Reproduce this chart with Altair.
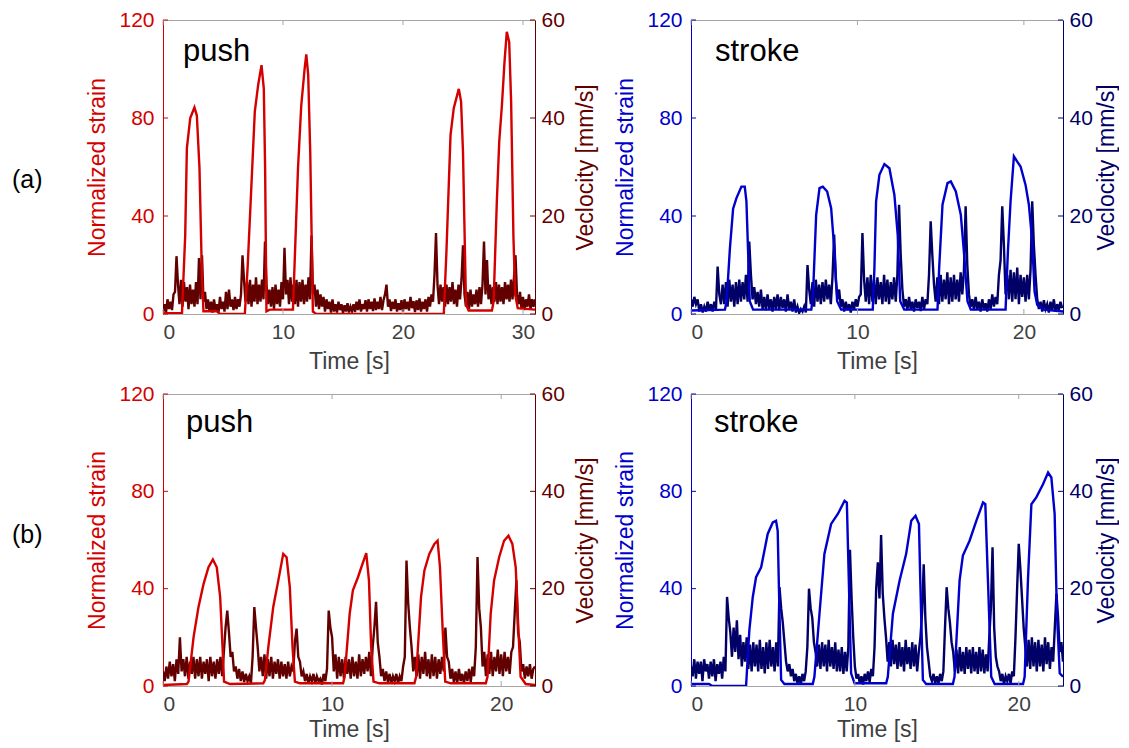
import altair as alt
import pandas as pd

# ---------------- data ----------------
# (a) push : strain (time, value) and velocity (one row of samples per second)
a_push_strain_t = [0, 1.5, 1.58, 1.85, 1.99, 2.27, 2.62, 2.82, 3.04, 3.23, 3.37, 4.48, 4.75, 6.82, 7.05, 7.24, 7.65,
                   7.93, 8.21, 8.40, 8.51, 8.62, 8.9, 10.83, 11.05, 11.25, 11.52, 11.8, 11.94, 12.1, 12.27, 12.49,
                   12.77, 23.4, 23.62, 23.96, 24.23, 24.65, 24.84, 25.0, 25.25, 25.47, 27.41, 27.55, 27.82, 28.02,
                   28.24, 28.46, 28.65, 28.85, 29.01, 29.2, 29.35, 29.56, 31.0]
a_push_strain_v = [0.3, 0.3, 0, 32, 67.7, 80, 84.3, 81, 59.5, 18.8, 1.1, 1.1, 0, 0, 18.8, 39, 82.6,
                   93.5, 101.6, 92, 59.5, 1.1, 1.8, 1.8, 32, 59.5, 85, 100, 106, 97.6, 66, 1,
                   0, 0, 25.5, 73, 84, 91.9, 86.7, 66, 3.8, 1.4, 1.4, 5, 46, 70.4,
                   85, 103, 115.2, 111, 86.7, 32, 7.9, 2.4, 1.8]
a_push_vel_dt = 0.125
a_push_vel = [
    [0.5, 2.0, 0.3, 3.0, 1.0, 2.5, 0.8, 4.0],
    [4.5, 11.8, 6.0, 2.0, 7.0, 1.5, 6.5, 2.5],
    [5.5, 1.0, 6.0, 2.0, 5.0, 1.5, 6.5, 2.0],
    [11.4, 3.0, 12.0, 2.5, 4.5, 1.0, 3.0, 0.5],
    [2.5, 0.3, 3.0, 0.8, 2.0, 0.3, 3.5, 1.0],
    [2.5, 0.5, 4.5, 1.0, 5.0, 1.5, 3.0, 0.8],
    [3.5, 1.0, 3.0, 1.5, 4.0, 12.0, 7.0, 2.5],
    [6.5, 2.0, 7.0, 1.5, 6.0, 2.5, 7.5, 2.0],
    [6.0, 2.5, 7.0, 3.0, 14.8, 6.0, 2.0, 5.0],
    [1.5, 5.5, 1.0, 6.0, 2.0, 5.0, 1.5, 6.5],
    [3.0, 13.5, 4.0, 7.0, 2.0, 7.5, 2.5, 6.0],
    [2.0, 7.0, 1.5, 6.5, 2.5, 7.0, 2.0, 6.0],
    [2.5, 7.5, 3.0, 16.0, 4.0, 6.0, 1.5, 5.0],
    [1.0, 4.0, 1.5, 3.5, 0.5, 3.0, 1.0, 2.5],
    [0.3, 3.0, 0.5, 2.0, 0.3, 2.5, 0.8, 2.0],
    [0.2, 1.8, 0.5, 2.2, 0.3, 1.5, 0.6, 2.0],
    [0.4, 2.5, 0.8, 3.0, 0.5, 2.0, 1.0, 2.8],
    [0.5, 3.0, 1.0, 2.5, 0.6, 3.2, 0.8, 2.5],
    [1.0, 3.5, 0.8, 2.8, 4.0, 6.0, 1.5, 3.0],
    [0.6, 2.5, 1.0, 3.0, 0.5, 2.2, 0.8, 2.8],
    [0.5, 3.0, 1.0, 2.5, 0.7, 3.5, 1.2, 2.6],
    [0.4, 2.8, 0.8, 3.2, 0.5, 2.5, 1.0, 3.0],
    [0.5, 3.5, 1.5, 4.0, 2.5, 8.0, 16.5, 6.0],
    [2.0, 6.0, 2.5, 5.5, 1.5, 6.0, 2.0, 5.5],
    [2.5, 6.5, 2.0, 5.0, 1.5, 6.0, 3.0, 7.0],
    [14.0, 4.0, 1.5, 4.5, 1.0, 5.0, 1.5, 4.0],
    [2.0, 5.0, 1.5, 5.5, 2.0, 6.0, 14.8, 4.0],
    [11.0, 3.0, 6.0, 2.0, 5.5, 2.5, 6.5, 2.0],
    [6.0, 2.5, 5.5, 2.0, 6.5, 3.0, 6.0, 2.5],
    [7.0, 3.0, 7.5, 12.0, 4.0, 2.0, 4.5, 1.0],
    [3.5, 0.8, 3.0, 1.5, 4.0, 1.0, 3.0, 1.5],
    [3.0],
]

# (a) stroke
a_stroke_strain_t = [0, 2.04, 2.14, 2.34, 2.53, 2.73, 3.03, 3.23, 3.33, 3.43, 3.53, 3.73, 7.23, 7.33, 7.52, 7.72,
                     7.92, 8.18, 8.42, 8.62, 8.78, 9.02, 10.92, 11.02, 11.12, 11.32, 11.62, 11.92, 12.22, 12.42,
                     12.57, 12.81, 14.81, 14.91, 15.11, 15.41, 15.61, 15.91, 16.21, 16.41, 16.61, 16.81, 18.9,
                     19.04, 19.2, 19.4, 19.6, 19.8, 20.1, 20.3, 20.5, 20.64, 20.8, 21.2, 22.35]
a_stroke_strain_v = [1.4, 1.8, 5.2, 27, 43, 47.3, 52, 52, 46, 25.5, 5.2, 1.8, 1.8, 7.9, 40.5, 51.4,
                     52, 50, 43.2, 25.5, 5.2, 1.8, 1.8, 18.8, 46, 56.8, 61.2, 59.5, 48.6, 32.3,
                     5.2, 1.8, 1.8, 18.8, 44.6, 53.4, 54.1, 50, 40.5, 24.2, 5.2, 1.8, 1.8,
                     25.5, 46, 64.3, 62.2, 60.2, 52.7, 44.6, 29.6, 9.2, 3.8, 1.8, 1.0]
a_stroke_vel_dt = 0.1
a_stroke_vel = [
    [3.0, 1.5, 3.5, 2.0, 3.0, 0.5, 2.0, 0.3, 1.5, 0.5],
    [2.5, 0.8, 2.0, 0.5, 2.5, 1.0, 9.7, 4.0, 2.0, 6.0],
    [2.0, 6.5, 1.5, 7.0, 2.5, 6.0, 1.5, 6.5, 2.0, 7.0],
    [2.5, 6.5, 3.0, 8.0, 2.5, 14.8, 8.0, 3.0, 5.5, 2.0],
    [4.5, 1.5, 5.0, 1.0, 3.5, 0.8, 4.0, 1.0, 3.0, 0.5],
    [3.5, 1.0, 4.0, 0.8, 3.5, 1.2, 3.0, 0.5, 4.0, 1.0],
    [2.5, 0.5, 3.0, 0.3, 1.5, 0.2, 1.0, 0.5, 1.5, 0.3],
    [10.0, 5.0, 2.0, 6.5, 1.5, 7.0, 2.5, 6.0, 2.0, 6.5],
    [2.5, 7.0, 3.0, 6.0, 2.0, 7.5, 16.2, 7.0, 3.0, 5.0],
    [1.5, 3.0, 0.5, 2.5, 0.8, 2.0, 0.3, 2.5, 1.0, 3.0],
    [1.5, 3.5, 4.0, 16.5, 7.0, 2.5, 7.5, 2.0, 8.0, 2.5],
    [7.0, 2.0, 7.5, 3.0, 6.5, 2.0, 8.0, 2.5, 7.0, 2.0],
    [6.5, 3.0, 7.5, 2.5, 8.0, 22.3, 12.0, 5.0, 1.5, 3.0],
    [0.8, 3.5, 1.0, 2.5, 0.5, 3.0, 1.2, 2.5, 0.6, 3.5],
    [1.0, 3.0, 2.0, 8.0, 18.9, 12.0, 6.0, 2.5, 7.5, 2.0],
    [8.0, 2.5, 7.0, 3.0, 8.5, 2.0, 7.5, 2.5, 8.0, 3.0],
    [7.0, 2.5, 8.5, 4.0, 9.0, 22.0, 10.0, 4.0, 1.5, 3.0],
    [0.8, 3.5, 1.0, 2.5, 0.5, 3.0, 1.0, 2.2, 0.5, 3.0],
    [1.0, 4.0, 1.5, 3.5, 2.0, 8.0, 11.0, 22.0, 14.0, 4.0],
    [8.0, 3.0, 9.0, 2.5, 8.5, 3.0, 9.5, 2.0, 8.0, 3.5],
    [7.5, 2.5, 8.0, 3.0, 9.0, 23.0, 14.0, 8.0, 3.0, 1.0],
    [2.5, 0.5, 2.8, 1.0, 2.0, 0.3, 2.5, 0.8, 3.0, 0.5],
    [2.0, 0.8, 2.5, 1.2],
]

# (b) push
b_push_strain_t = [0, 1.41, 1.51, 1.81, 2.1, 2.4, 2.69, 2.95, 3.18, 3.38, 3.52, 3.61, 3.97, 5.93, 6.03, 6.23,
                   6.52, 6.82, 7.11, 7.31, 7.5, 7.66, 7.8, 8.09, 10.65, 10.74, 11.04, 11.23, 11.53, 11.73,
                   12.02, 12.18, 12.31, 12.45, 12.8, 14.87, 14.97, 15.26, 15.46, 15.75, 16.05, 16.24, 16.38,
                   16.54, 16.69, 17.03, 19.09, 19.19, 19.38, 19.58, 19.88, 20.17, 20.43, 20.66, 20.86, 21.02,
                   21.15, 21.45, 22.0]
b_push_strain_v = [0.4, 0.8, 1.8, 20.2, 32.5, 42, 48.8, 52, 48.8, 36.6, 16.1, 1.8, 0.8, 1.1, 2.5, 16.1,
                   32.5, 43.4, 54.3, 52.9, 40.6, 16.1, 1.8, 1.1, 1.1, 3.8, 29.7, 39.3, 44.7, 48.8,
                   54.6, 43.4, 16.1, 1.8, 1.1, 1.1, 3.8, 36.6, 47.5, 54.3, 58.4, 59.7, 48.8,
                   22.9, 1.8, 1.1, 1.1, 3.8, 29.7, 43.4, 52.9, 59.7, 61.8, 58.4, 48.8, 22.9,
                   3.8, 0.8, 0.4]
b_push_vel_dt = 0.1
b_push_vel = [
    [3.0, 1.0, 4.0, 1.5, 5.0, 2.0, 4.5, 1.0, 5.5, 2.5],
    [10.0, 3.0, 5.5, 2.0, 6.0, 1.5, 5.0, 2.5, 6.0, 1.5],
    [5.5, 2.0, 6.0, 1.5, 5.0, 2.5, 5.5, 1.0, 6.0, 2.0],
    [5.0, 1.5, 5.5, 2.5, 6.0, 2.0, 7.0, 12.0, 15.5, 11.0],
    [6.0, 7.0, 3.0, 4.0, 1.5, 3.5, 1.0, 3.0, 0.8, 2.5],
    [1.0, 2.0, 0.5, 6.0, 16.2, 12.0, 8.0, 3.0, 6.0, 2.0],
    [6.5, 1.5, 5.5, 2.0, 6.0, 1.5, 5.0, 2.5, 5.5, 1.5],
    [5.0, 2.0, 4.5, 1.5, 5.0, 2.0, 4.0, 3.0, 9.0, 11.8],
    [6.0, 5.0, 2.0, 3.0, 1.0, 2.5, 0.5, 2.0, 1.0, 2.5],
    [0.5, 2.0, 1.0, 1.5, 0.3, 2.5, 1.0, 3.5, 15.5, 12.0],
    [10.0, 3.0, 6.5, 1.5, 6.0, 2.0, 5.5, 1.5, 6.0, 2.5],
    [5.5, 1.5, 6.0, 2.0, 5.0, 1.5, 6.5, 2.0, 5.5, 2.5],
    [6.0, 3.0, 7.0, 2.0, 8.0, 12.0, 17.3, 9.0, 6.0, 2.0],
    [3.5, 1.0, 3.0, 0.8, 2.5, 0.5, 2.0, 1.0, 2.5, 0.5],
    [2.0, 1.0, 4.0, 6.0, 25.8, 17.0, 12.0, 8.0, 3.0, 6.0],
    [2.0, 6.5, 1.5, 6.0, 2.5, 7.0, 2.0, 5.5, 1.5, 6.5],
    [2.0, 6.0, 1.5, 5.5, 2.5, 6.0, 3.0, 12.0, 6.0, 5.0],
    [1.5, 3.5, 0.8, 3.0, 0.5, 3.5, 1.0, 2.5, 0.5, 3.0],
    [1.0, 3.5, 0.8, 4.0, 2.0, 8.0, 26.5, 16.0, 12.0, 4.0],
    [7.0, 2.0, 6.5, 2.5, 7.0, 2.0, 6.0, 3.0, 7.5, 2.5],
    [6.5, 2.0, 7.0, 3.0, 6.0, 2.5, 7.0, 8.0, 15.0, 21.7],
    [11.0, 9.0, 3.0, 4.5, 1.5, 4.0, 2.0, 4.5, 1.5, 3.5],
    [4.0],
]

# (b) stroke
b_stroke_strain_t = [0, 1.1, 1.3, 3.36, 3.56, 3.77, 3.97, 4.28, 4.68, 4.99, 5.19, 5.29, 5.4, 5.5, 5.7, 7.43,
                     7.53, 7.84, 8.14, 8.55, 8.96, 9.37, 9.51, 9.63, 9.77, 9.98, 11.91, 12.01, 12.32, 12.73,
                     13.13, 13.44, 13.7, 13.91, 13.99, 14.15, 14.35, 15.98, 16.08, 16.39, 16.59, 17.0, 17.41,
                     17.82, 17.96, 18.12, 18.32, 18.53, 20.26, 20.36, 20.56, 20.77, 21.07, 21.48, 21.79,
                     21.99, 22.19, 22.33, 22.5, 22.7]
b_stroke_strain_v = [0.8, 0.8, 0, 0, 22.9, 36.6, 44.7, 48.8, 62.5, 67.2, 67.9, 63.8, 29.7, 2.5, 0.8, 0.8,
                     3.8, 29.7, 54.3, 66.6, 70.7, 76.1, 75.4, 43.4, 5.2, 1.1, 1.1, 3.8, 29.7, 43.4,
                     54.3, 67.9, 70, 66.6, 43.4, 2.5, 0.8, 0.8, 3.8, 43.4, 53.6, 59.7, 67.9,
                     75.4, 74.7, 43.4, 3.8, 0.8, 0.8, 3.8, 43.4, 74.7, 77.5, 82.9, 87.7,
                     85.7, 70.7, 29.7, 5.2, 3.8]
b_stroke_vel_dt = 0.1
b_stroke_vel = [
    [4.0, 2.0, 5.5, 1.5, 5.0, 2.5, 5.0, 1.0, 5.5, 3.0],
    [4.5, 1.5, 5.0, 2.0, 5.5, 1.0, 4.5, 2.5, 5.0, 1.5],
    [6.0, 3.0, 18.3, 14.0, 11.0, 6.0, 12.0, 7.0, 13.5, 5.5],
    [10.5, 4.0, 9.0, 5.0, 10.0, 3.5, 8.5, 3.0, 9.0, 4.0],
    [8.5, 3.0, 9.5, 3.5, 8.0, 2.6, 9.0, 3.5, 9.5, 4.0],
    [8.0, 3.0, 9.0, 4.0, 20.3, 16.0, 13.0, 9.0, 5.0, 3.0],
    [4.5, 2.0, 3.5, 1.0, 2.5, 0.5, 2.0, 0.3, 2.5, 1.0],
    [3.0, 8.0, 20.0, 16.0, 14.0, 9.0, 7.0, 4.0, 8.5, 3.5],
    [9.0, 4.0, 8.5, 3.0, 9.5, 4.0, 8.0, 3.5, 9.0, 3.0],
    [7.5, 3.0, 8.0, 2.5, 7.0, 3.0, 8.0, 28.0, 18.0, 10.0],
    [4.0, 1.5, 2.5, 0.5, 2.0, 0.3, 2.5, 1.0, 3.0, 0.8],
    [3.5, 2.0, 8.0, 20.0, 25.4, 18.0, 31.0, 19.0, 14.0, 10.0],
    [5.0, 9.0, 4.0, 9.5, 4.5, 8.5, 3.5, 9.0, 4.0, 8.0],
    [3.0, 9.5, 4.5, 8.0, 3.5, 9.0, 4.0, 8.5, 3.0, 7.0],
    [10.0, 15.0, 25.0, 14.0, 8.0, 5.0, 2.0, 1.0, 2.5, 0.5],
    [2.0, 0.5, 2.5, 1.0, 3.0, 12.0, 20.3, 16.0, 13.0, 9.0],
    [7.0, 3.0, 7.5, 2.6, 8.0, 3.0, 7.0, 2.5, 8.0, 3.5],
    [7.5, 2.6, 8.0, 3.0, 7.0, 2.5, 8.0, 3.0, 7.5, 2.6],
    [6.5, 3.0, 10.0, 16.0, 28.5, 12.0, 6.0, 4.0, 3.0, 1.0],
    [2.5, 0.3, 2.0, 1.0, 2.5, 0.5, 3.0, 2.0, 10.0, 20.0],
    [29.2, 24.0, 18.0, 12.0, 8.0, 4.0, 9.5, 3.5, 10.0, 4.0],
    [9.0, 3.0, 9.5, 4.0, 8.5, 3.0, 10.0, 4.5, 9.0, 3.5],
    [8.0, 5.0, 12.0, 19.0, 14.0, 7.0, 9.0, 5.0],
]

strain_ticks = [0, 40, 80, 120]
vel_ticks = [0, 20, 40, 60]
a_push_xticks = [0, 10, 20, 30]
other_xticks = [0, 10, 20]

# ---------------- styling ----------------
FONT = "Liberation Sans"
W = 372
H_TOP, H_BOT = 294, 292
GRAY = "#a6a6a6"
TXT = "#404040"
RED, DRED = "#d40000", "#620000"
BLUE, NAVY = "#0000cc", "#000066"
TL = 5
LW = 2.4


def vel_frame(rows, dt):
    ts, vs = [], []
    for s, row in enumerate(rows):
        for j, v in enumerate(row):
            ts.append(round(s + j * dt, 4))
            vs.append(v)
    return pd.DataFrame({"t": ts, "v": vs})


def panel(st_t, st_v, rows, dt, xmax, xticks, c_s, c_v, word, wx, wy, H, xtpad, vtpad,
          letter=None, ly=0):
    sdf = pd.DataFrame({"t": st_t, "v": st_v})
    vdf = vel_frame(rows, dt)
    xsc = alt.Scale(domain=[0, xmax], nice=False, zero=False)

    def X():
        return alt.X("t:Q", scale=xsc,
                     axis=alt.Axis(orient="bottom", values=xticks, title="Time [s]", format="d",
                                   domain=False, ticks=False, grid=False, labelColor=TXT,
                                   titleColor=TXT, labelPadding=7, titlePadding=xtpad))

    ssc = alt.Scale(domain=[0, 120], nice=False, zero=False)
    vsc = alt.Scale(domain=[0, 60], nice=False, zero=False)

    vel_line = alt.Chart(vdf).mark_line(color=c_v, strokeWidth=LW, clip=True).encode(
        x=X(),
        y=alt.Y("v:Q", scale=vsc,
                axis=alt.Axis(orient="right", values=vel_ticks, title="Veclocity [mm/s]",
                              titleAngle=270, titleBaseline="top",
                              domainColor=c_v, labelColor=c_v, titleColor=c_v,
                              ticks=False, grid=False, labelPadding=6, titlePadding=vtpad)))
    strain_line = alt.Chart(sdf).mark_line(color=c_s, strokeWidth=LW, clip=True).encode(
        x=X(),
        y=alt.Y("v:Q", scale=ssc,
                axis=alt.Axis(orient="left", values=strain_ticks, title="Normalized strain",
                              domainColor=c_s, labelColor=c_s, titleColor=c_s,
                              ticks=False, grid=False, labelPadding=9, titlePadding=9)))

    lt = alt.Chart(pd.DataFrame({"v": strain_ticks})).mark_rule(color=c_s, strokeWidth=1).encode(
        y=alt.Y("v:Q", scale=ssc, axis=None), x=alt.value(0), x2=alt.value(TL))
    rt = alt.Chart(pd.DataFrame({"v": vel_ticks})).mark_rule(color=c_v, strokeWidth=1).encode(
        y=alt.Y("v:Q", scale=vsc, axis=None), x=alt.value(W), x2=alt.value(W - TL))
    xdf = pd.DataFrame({"t": xticks})
    bt = alt.Chart(xdf).mark_rule(color=GRAY, strokeWidth=1).encode(
        x=X(), y=alt.value(H), y2=alt.value(H - TL))
    tt = alt.Chart(xdf).mark_rule(color=GRAY, strokeWidth=1).encode(
        x=X(), y=alt.value(0), y2=alt.value(TL))

    wtxt = alt.Chart(pd.DataFrame({"s": [word]})).mark_text(
        align="left", baseline="alphabetic", fontSize=31, font=FONT, color="black").encode(
        text="s:N", x=alt.value(wx), y=alt.value(wy))

    layers = [vel_line, strain_line, lt, rt, bt, tt, wtxt]
    if letter:
        ltxt = alt.Chart(pd.DataFrame({"s": [letter]})).mark_text(
            align="left", baseline="middle", fontSize=25, font=FONT, color="black").encode(
            text="s:N", x=alt.value(-151), y=alt.value(ly))
        layers.append(ltxt)
    return alt.layer(*layers).resolve_scale(y="independent").properties(width=W, height=H)


p1 = panel(a_push_strain_t, a_push_strain_v, a_push_vel, a_push_vel_dt, 31.0, a_push_xticks,
           RED, DRED, "push", 20, 40.5, H_TOP, 8, 10, "(a)", 159.5)
p2 = panel(a_stroke_strain_t, a_stroke_strain_v, a_stroke_vel, a_stroke_vel_dt, 22.35, other_xticks,
           BLUE, NAVY, "stroke", 24, 40.5, H_TOP, 8, 3)
p3 = panel(b_push_strain_t, b_push_strain_v, b_push_vel, b_push_vel_dt, 22.0, other_xticks,
           RED, DRED, "push", 23, 37.5, H_BOT, 4, 10, "(b)", 140.5)
p4 = panel(b_stroke_strain_t, b_stroke_strain_v, b_stroke_vel, b_stroke_vel_dt, 22.7, other_xticks,
           BLUE, NAVY, "stroke", 23, 37.5, H_BOT, 4, 3)

chart = alt.concat(p1, p2, p3, p4, columns=2, spacing={"row": 80, "column": 156}, bounds="flush").properties(
    padding={"left": 3, "top": 0, "right": 0, "bottom": 0}
).configure_view(stroke=GRAY, strokeWidth=1).configure_axis(
    labelFont=FONT, titleFont=FONT, labelFontSize=21, titleFontSize=23, titleFontWeight="normal"
)

chart.save("out.html", embed_options={"renderer": "svg", "actions": False})
